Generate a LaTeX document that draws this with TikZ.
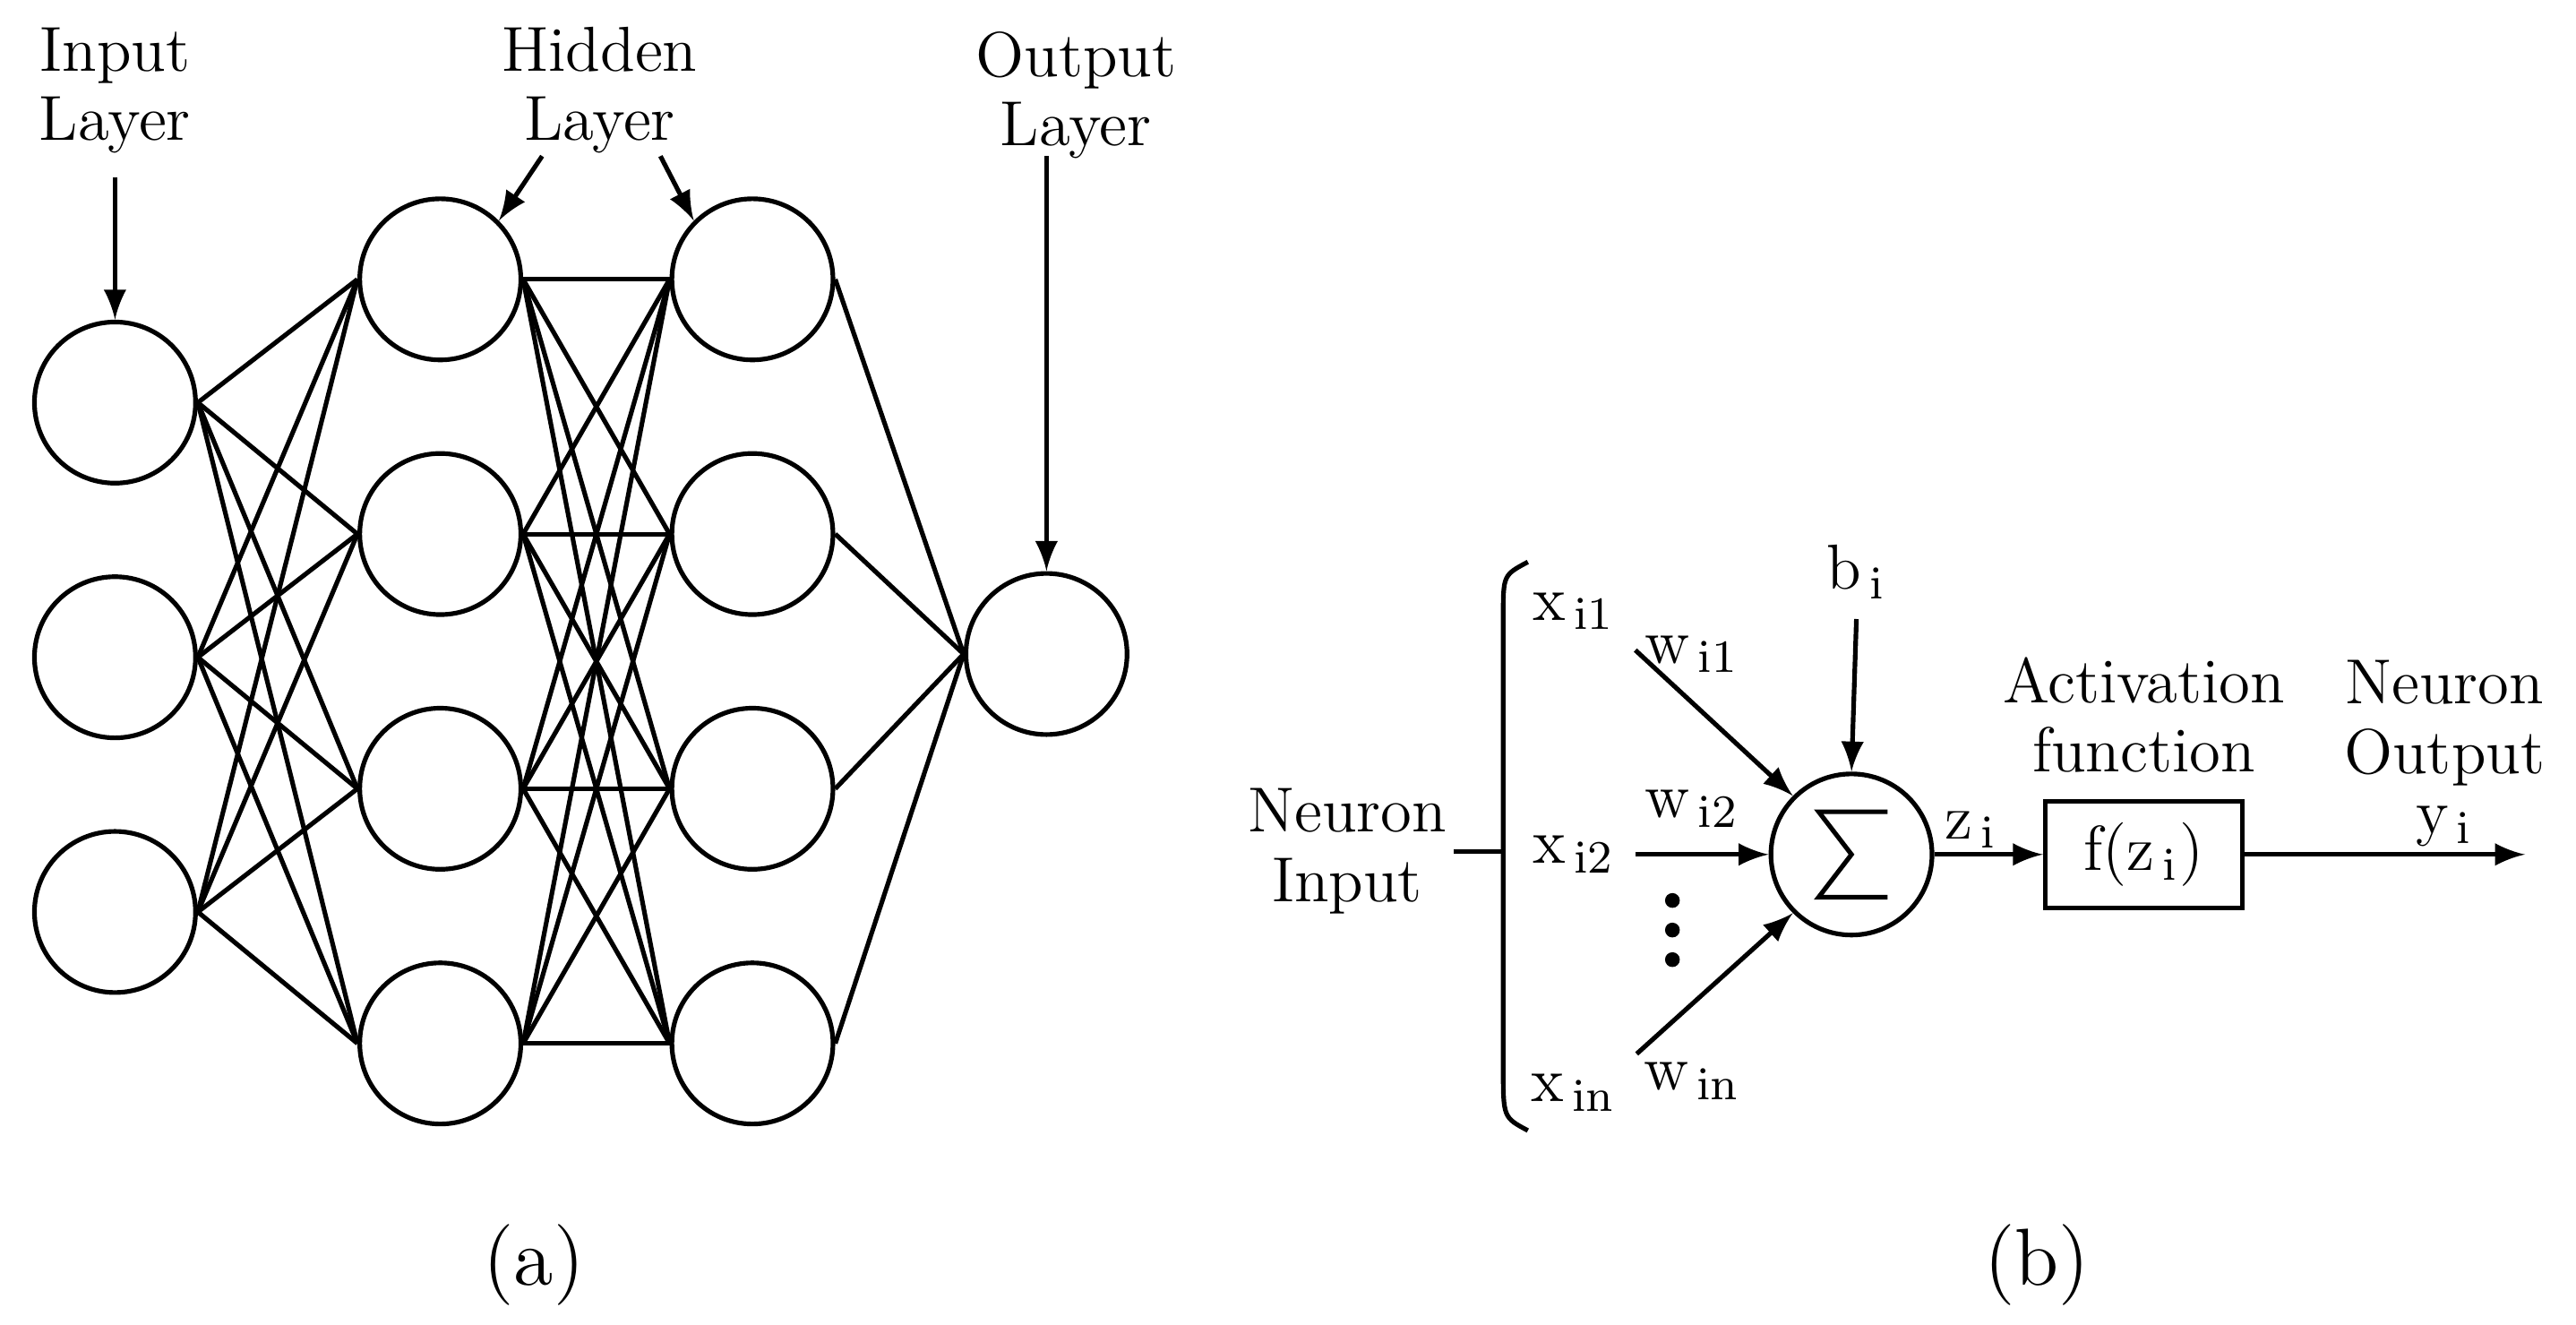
\documentclass[tikz,border=0pt]{standalone}
\usetikzlibrary{arrows,positioning}
\begin{document}
\begin{tikzpicture}[x=0.01cm,y=-0.01cm,font=\fontsize{11}{12}\selectfont,
  neuron/.style={draw,thick,circle,minimum size=0.98cm,inner sep=0pt},
  link/.style={thick},
  arr/.style={thick,->,>=latex},
  lbl/.style={align=center,inner sep=1pt}]
\useasboundingbox (0,0) rectangle (1568,806);
% (a) network
\foreach \i/\y in {1/245,2/400,3/555} \node[neuron] (in\i) at (70,\y) {};
\foreach \i/\y in {1/170,2/325,3/480,4/635} {
  \node[neuron] (ha\i) at (268,\y) {};
  \node[neuron] (hb\i) at (458,\y) {};
}
\node[neuron] (out) at (637,398) {};
\foreach \i in {1,2,3} \foreach \j in {1,2,3,4} \draw[link] (in\i.east) -- (ha\j.west);
\foreach \i in {1,2,3,4} \foreach \j in {1,2,3,4} \draw[link] (ha\i.east) -- (hb\j.west);
\foreach \i in {1,2,3,4} \draw[link] (hb\i.east) -- (out.west);
\node[lbl] (inlbl) at (70,55) {Input\\Layer};
\node[lbl] (hidlbl) at (365,55) {Hidden\\Layer};
\node[lbl] (outlbl) at (655,58) {Output\\Layer};
\coordinate (inarr) at (70,108);
\coordinate (hidl) at (330,95);
\coordinate (hidr) at (402,95);
\coordinate (outarr) at (637,95);
\draw[arr] (inarr) -- (in1.north);
\draw[arr] (hidl) -- (ha1.north east);
\draw[arr] (hidr) -- (hb1.north west);
\draw[arr] (outarr) -- (out.north);
\node (capa) at (325,770) {\fontsize{14}{16}\selectfont(a)};
% (b) single neuron
\node[neuron] (sum) at (1127,520) {};
\draw[thick] ([shift={(22,-26)}]sum.center) -- ++(-42,0) -- ++(20,26) -- ++(-20,26) -- ++(42,0);
\draw[thick] (930,342) .. controls (915,350) .. (915,375) -- (915,650) .. controls (915,680) .. (930,688);
\coordinate (brace) at (915,518);
\node[lbl] (nin) at (820,518) {Neuron\\Input};
\draw[thick] (brace) -- (nin.east);
\node (x1) at (958,372) {x$_{\,\mathrm{i1}}$};
\node (x2) at (958,520) {x$_{\,\mathrm{i2}}$};
\node (xn) at (958,665) {x$_{\,\mathrm{in}}$};
\node (w1) at (1030,398) {w$_{\,\mathrm{i1}}$};
\node (w2) at (1030,492) {w$_{\,\mathrm{i2}}$};
\node (wn) at (1030,658) {w$_{\,\mathrm{in}}$};
\draw[arr] (x1.south east) -- (sum.north west);
\draw[arr] (x2.east) -- (sum.west);
\draw[arr] (xn.north east) -- (sum.south west);
\foreach \y in {548,566,584} \fill (1018,\y) circle (4.5);
\node (b) at (1130,348) {b$_{\,\mathrm{i}}$};
\draw[arr] (b.south) -- (sum.north);
\node[draw,thick,minimum width=1.2cm,minimum height=0.65cm] (f) at (1305,520) {f(z$_{\,\mathrm{i}}$)};
\node (z) at (1200,505) {z$_{\,\mathrm{i}}$};
\draw[arr] (sum.east) -- (f.west);
\node[lbl] (act) at (1305,435) {Activation\\function};
\coordinate (yend) at (1537,520);
\draw[arr] (f.east) -- (yend);
\node[lbl] (nout) at (1488,440) {Neuron\\Output};
\node (y) at (1488,503) {y$_{\,\mathrm{i}}$};
\node (capb) at (1240,770) {\fontsize{14}{16}\selectfont(b)};
\end{tikzpicture}
\end{document}
